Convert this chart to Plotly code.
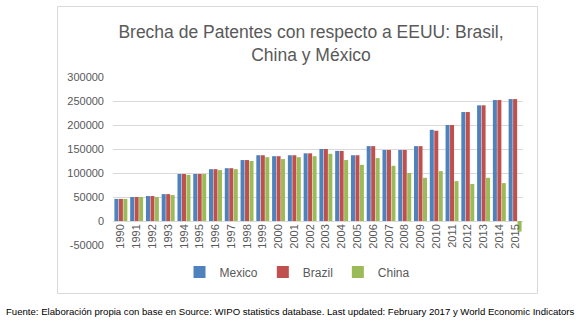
import plotly.graph_objects as go

years = [str(y) for y in range(1990, 2016)]
mexico = [46000, 50000, 52000, 56000, 98000, 98000, 108000, 110000, 127000, 137000,
          135000, 137000, 141000, 150000, 146000, 137000, 156000, 148000, 148000, 156000,
          190000, 200000, 227000, 241000, 252000, 254000]
brazil = [46000, 50000, 52000, 56000, 98000, 98000, 108000, 110000, 127000, 137000,
          135000, 137000, 141000, 150000, 146000, 137000, 156000, 148000, 148000, 156000,
          188000, 200000, 227000, 241000, 252000, 254000]
china = [46000, 50000, 50000, 54000, 96000, 98000, 106000, 108000, 125000, 133000,
         129000, 133000, 135000, 140000, 127000, 117000, 131000, 115000, 100000, 90000,
         104000, 83000, 77000, 90000, 79000, -22000]
y_tick_vals = [-50000, 0, 50000, 100000, 150000, 200000, 250000, 300000]
y_tick_text = ["-50000", "0", "50000", "100000", "150000", "200000", "250000", "300000"]

title_text = "Brecha de Patentes con respecto a EEUU: Brasil,<br>China y México"
footer_text = ("Fuente: Elaboración propia con base en Source: WIPO statistics database. "
               "Last updated: February 2017 y World Economic Indicators")

FONT = "Liberation Sans"
GRAY = "#595959"
GRID = "#D9D9D9"

W, H = 580, 326
L, R, T, B = 113, 57, 77, 81
pw, ph = W - L - R, H - T - B

def px(x):
    return (x - L) / pw

def py(y):
    return (H - B - y) / ph

fig = go.Figure()
for name, vals, col in [("Mexico", mexico, "#4F81BD"),
                        ("Brazil", brazil, "#C0504D"),
                        ("China", china, "#9BBB59")]:
    fig.add_trace(go.Bar(x=years, y=vals, name=name, marker=dict(color=col, line_width=0)))

ymin, ymax = -50000, 300000
fig.update_layout(
    width=W, height=H,
    margin=dict(l=L, r=R, t=T, b=B),
    paper_bgcolor="white", plot_bgcolor="white",
    barmode="group", bargap=0.15, bargroupgap=0.1,
    font=dict(family=FONT, color=GRAY, size=11),
    title=dict(text=title_text, x=311 / W, xanchor="center", xref="container",
               y=1 - 38 / H, yanchor="top", yref="container",
               font=dict(family=FONT, size=17.5, color=GRAY)),
    xaxis=dict(type="category", anchor="free", position=(0 - ymin) / (ymax - ymin),
               showgrid=False, showline=False, ticks="", tickangle=-90,
               tickfont=dict(family=FONT, size=11, color=GRAY)),
    yaxis=dict(range=[ymin, ymax], tickvals=y_tick_vals, ticktext=y_tick_text,
               showgrid=True, gridcolor=GRID, gridwidth=1, zeroline=True,
               zerolinecolor=GRID, zerolinewidth=1, showline=False, ticks="",
               ticklabelstandoff=8,
               tickfont=dict(family=FONT, size=11, color=GRAY)),
    legend=dict(orientation="h", x=0.45, xanchor="center", y=py(272), yanchor="middle",
                font=dict(family=FONT, size=12, color=GRAY), itemwidth=30,
                bgcolor="rgba(0,0,0,0)"),
    showlegend=True,
    shapes=[dict(type="rect", xref="paper", yref="paper",
                 x0=px(57.5), x1=px(537.5), y0=py(293.5), y1=py(6.5),
                 line=dict(color=GRID, width=1), fillcolor="rgba(0,0,0,0)", layer="below")],
    annotations=[dict(text=footer_text, xref="paper", yref="paper", x=px(4), y=py(311),
                      xanchor="left", yanchor="middle", showarrow=False,
                      font=dict(family=FONT, size=9.6, color="#000000"))],
)

fig.write_html("out.html")
